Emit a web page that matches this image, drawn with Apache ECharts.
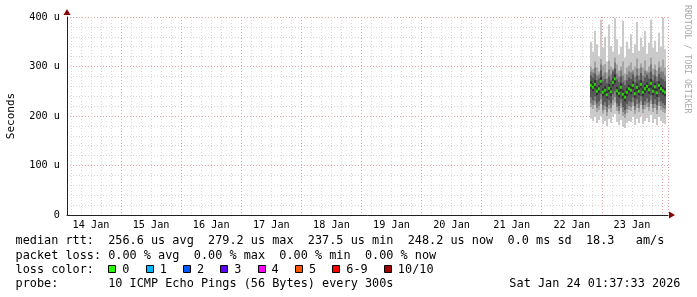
<!DOCTYPE html>
<html><head><meta charset="utf-8">
<script src="https://cdn.jsdelivr.net/npm/echarts@6/dist/echarts.min.js"></script>
<style>html,body{margin:0;padding:0;background:#fff}#c{width:697px;height:297px}</style>
</head><body><div id="c"></div>
<script>
// ---- data ----
const yTicks = [0, 100, 200, 300, 400];
const yTickLabels = ['0', '100 u', '200 u', '300 u', '400 u'];
const dayLabels = ['14 Jan', '15 Jan', '16 Jan', '17 Jan', '18 Jan', '19 Jan', '20 Jan', '21 Jan', '22 Jan', '23 Jan'];
const axisStart = '2026-01-14T02:25:00Z';
const axisEnd = '2026-01-24T02:25:00Z';
const sampleStart = '2026-01-22T19:12:00Z';
const sampleStepMinutes = 48;

// sorted ping round-trip times per sample (us): 1 = fastest ... 10 = slowest
const ping10 = [350,330,372,345,320,395,338,360,310,385, 342,330,398,355,325,340,392,318,350,336, 365,328,345,390,332,358,340,372,326,348, 395,338,352,330,368,340,398,335];
const ping9  = [300,295,310,298,290,315,302,305,288,312, 300,296,318,304,292,300,310,286,298,302, 308,294,300,316,296,306,298,312,292,300, 318,296,304,292,310,300,314,298];
const ping8  = [290,288,298,282,284,304,282,288,276,294, 284,293,308,286,280,292,282,272,284,290, 288,290,280,296,282,298,282,292,288,288, 304,284,294,280,298,290,290,282];
const ping7  = [282,278,286,272,276,292,270,275,266,280, 272,290,296,274,268,280,268,262,272,278, 275,284,268,282,272,287,270,278,283,276, 290,272,282,270,285,278,274,270];
const ping6  = [270,266,272,258,262,279,256,260,250,264, 257,276,284,259,253,266,252,246,256,263, 260,270,253,266,258,272,256,263,268,261, 275,258,267,255,270,263,259,256];
const ping5  = [254,250,256,242,247,262,240,244,236,248, 241,260,266,243,238,250,236,230,240,247, 244,254,237,250,242,256,240,247,252,245, 257,242,251,239,254,247,243,240];
const ping4  = [238,232,240,226,230,245,222,228,218,232, 226,244,250,226,220,234,218,212,224,230, 228,238,220,234,226,240,222,230,236,228, 242,224,234,222,238,230,226,222];
const ping3  = [226,222,230,216,220,234,212,220,208,222, 216,232,238,218,210,226,208,204,214,220, 218,228,212,224,216,230,214,222,226,218, 232,216,224,212,228,220,216,214];
const ping2  = [218,214,222,208,212,224,205,212,200,214, 208,222,228,210,204,216,200,196,206,212, 210,220,204,216,208,222,206,214,218,210, 224,208,216,204,220,212,208,206];
const ping1  = [195,190,198,186,192,200,184,190,180,194, 186,200,204,188,182,192,178,176,186,190, 188,198,182,194,186,200,184,190,196,188, 202,186,194,182,198,190,186,184];
const rttMedian = [262,258,264,250,255,270,248,252,243,256, 249,268,275,251,246,258,244,238,248,255, 252,262,245,258,250,264,248,255,260,253, 266,250,259,247,262,255,251,248];

const lossLabels = ['0', '1', '2', '3', '4', '5', '6-9', '10/10'];
const lossColors = ['#26ff00', '#00b8ff', '#0059ff', '#5e00ff', '#ff00fe', '#ff5500', '#ff0000', '#a00000'];
const smokeColors = ['#cacaca', '#a4a4a4', '#7e7e7e', '#585858', '#323232'];

const statLine1 = 'median rtt:  256.6 us avg  279.2 us max  237.5 us min  248.2 us now  0.0 ms sd  18.3   am/s';
const statLine2 = 'packet loss: 0.00 % avg  0.00 % max  0.00 % min  0.00 % now';
const statLine3 = 'loss color:';
const probeLine = 'probe:       10 ICMP Echo Pings (56 Bytes) every 300s';
const dateLine = 'Sat Jan 24 01:37:33 2026';
const watermark = 'RRDTOOL / TOBI OETIKER';

// ---- chart ----
const HOUR = 3600 * 1000;
const stepMs = sampleStepMinutes * 60 * 1000;
const t0 = Date.parse(sampleStart);
const times = rttMedian.map((_, i) => t0 + i * stepMs);
const dayZero = Date.parse('2026-01-14T00:00:00Z');

const MONO = '"DejaVu Sans Mono", monospace';
const LEG_FONT = '11.85px ' + MONO;
const CW = 7.13;

function band(lo, hi, color) {
  return {
    type: 'custom', xAxisIndex: 0, yAxisIndex: 0, silent: true, clip: true,
    encode: { x: 0, y: [1, 2] },
    data: times.map((t, i) => [t, lo[i], hi[i]]),
    renderItem(params, api) {
      const t = api.value(0);
      const a = api.coord([t, api.value(2)]);
      const b = api.coord([t + stepMs, api.value(1)]);
      const x = Math.round(a[0]);
      const w = Math.round(b[0]) - x;
      return { type: 'rect', shape: { x: x, y: a[1], width: w, height: b[1] - a[1] }, style: { fill: color } };
    }
  };
}

const graphics = [];
const txt = (x, y, text, extra) => graphics.push({
  type: 'text', x: x, y: y, silent: true,
  style: Object.assign({ text: text, font: LEG_FONT, fill: '#000', verticalAlign: 'middle' }, extra || {})
});
txt(15.5, 241, statLine1);
txt(15.5, 255.5, statLine2);
txt(15.5, 269.5, statLine3);
txt(15.5, 283.5, probeLine);
txt(680.5, 283.5, dateLine, { align: 'right' });
let bx = 108.3;
lossLabels.forEach((lab, i) => {
  graphics.push({ type: 'rect', silent: true, shape: { x: Math.round(bx) + 0.5, y: 265.5, width: 7, height: 7 },
    style: { fill: lossColors[i], stroke: '#000', lineWidth: 1 } });
  txt(bx + 14, 269.5, lab);
  bx = bx + 14 + lab.length * CW + 16.2;
});
graphics.push({ type: 'text', x: 687, y: 5, rotation: -Math.PI / 2, silent: true,
  style: { text: watermark, font: '8.2px ' + MONO, fill: '#aaaaaa', verticalAlign: 'middle', align: 'left' } });

const chart = echarts.init(document.getElementById('c'), null, { renderer: 'canvas' });
chart.setOption({
  useUTC: true,
  animation: false,
  backgroundColor: '#fff',
  grid: { left: 67, right: 29, top: 17, bottom: 82, containLabel: false, outerBoundsMode: 'none' },
  xAxis: [{
    type: 'time', min: Date.parse(axisStart), max: Date.parse(axisEnd),
    minInterval: 6 * HOUR, maxInterval: 6 * HOUR, splitNumber: 40,
    axisLine: { show: true, lineStyle: { color: '#222', width: 1 } },
    axisTick: { show: false },
    axisLabel: {
      interval: 0, hideOverlap: false, margin: 5,
      fontFamily: MONO, fontSize: 10.2, color: '#000',
      formatter: (v) => {
        const d = new Date(v);
        if (d.getUTCHours() === 12 && d.getUTCMinutes() === 0) {
          const idx = Math.round((v - 12 * HOUR - dayZero) / (24 * HOUR));
          return dayLabels[idx] || '';
        }
        return '';
      }
    },
    splitLine: { show: true, lineStyle: { color: '#d9d9d9', type: [1, 2], width: 1 } }
  }, {
    type: 'time', min: Date.parse(axisStart), max: Date.parse(axisEnd),
    minInterval: 24 * HOUR, maxInterval: 24 * HOUR, splitNumber: 10,
    position: 'bottom',
    axisLine: { show: true, symbol: ['none', 'triangle'], symbolSize: [7, 6], symbolOffset: [0, 4],
      lineStyle: { color: '#8b0000', width: 0 } },
    axisTick: { show: false }, axisLabel: { show: false },
    splitLine: { show: true, lineStyle: { color: '#e3a6a6', type: [1, 2], width: 1 } }
  }],
  yAxis: [{
    type: 'value', min: 0, max: 400, interval: 100,
    axisLine: { show: true, lineStyle: { color: '#222', width: 1 } },
    axisTick: { show: false },
    axisLabel: { margin: 7, fontFamily: MONO, fontSize: 10.2, color: '#000',
      formatter: (v) => yTickLabels[yTicks.indexOf(v)] },
    name: 'Seconds', nameLocation: 'middle', nameGap: 50, nameRotate: 90,
    nameTextStyle: { fontFamily: MONO, fontSize: 11, color: '#000' },
    splitLine: { show: true, lineStyle: { color: '#e3a6a6', type: [1, 2], width: 1 } },
    minorTick: { show: false, splitNumber: 5 },
    minorSplitLine: { show: true, lineStyle: { color: '#d9d9d9', type: [1, 2], width: 1 } }
  }, {
    type: 'value', min: 0, max: 400, interval: 100,
    axisLine: { show: true, symbol: ['none', 'triangle'], symbolSize: [7, 6], symbolOffset: [0, 5],
      lineStyle: { color: '#8b0000', width: 0 } },
    axisTick: { show: false }, axisLabel: { show: false }, splitLine: { show: false }, position: 'left'
  }],
  series: [
    band(ping1, ping10, smokeColors[0]),
    band(ping2, ping9, smokeColors[1]),
    band(ping3, ping8, smokeColors[2]),
    band(ping4, ping7, smokeColors[3]),
    band(ping5, ping6, smokeColors[4]),
    {
      type: 'scatter', xAxisIndex: 0, yAxisIndex: 0, silent: true,
      symbol: 'rect', symbolSize: [2, 3],
      itemStyle: { color: '#26ff00' },
      data: times.map((t, i) => [t + stepMs / 2, rttMedian[i]])
    }
  ],
  graphic: graphics
});
</script></body></html>
